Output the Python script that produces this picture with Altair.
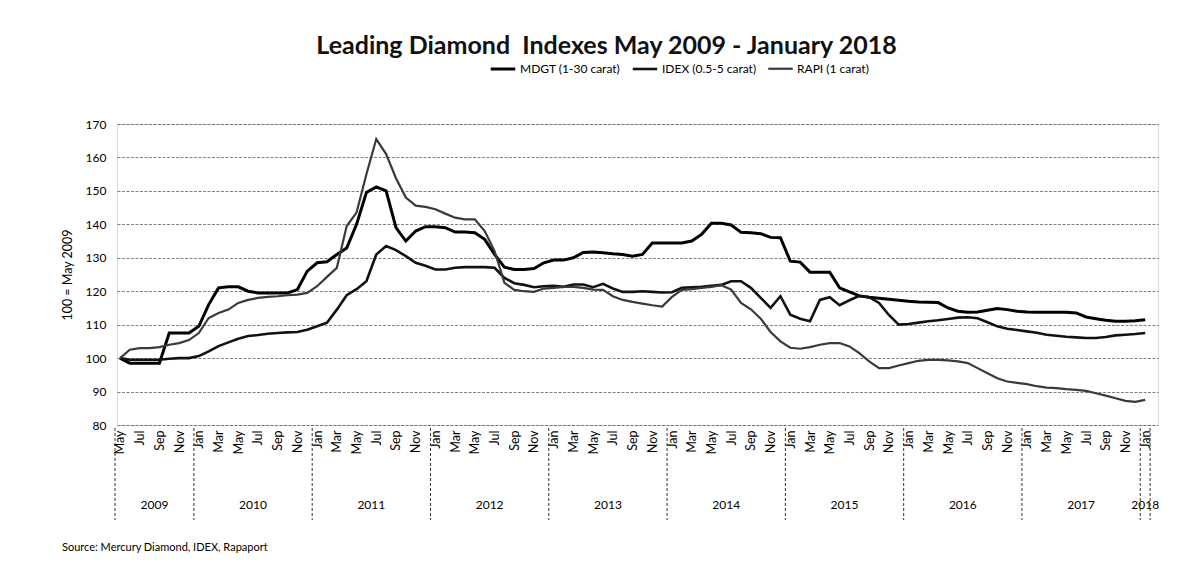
import altair as alt
import pandas as pd

# ---------------- data (monthly, May 2009 .. Jan 2018) ----------------
series_names = ["MDGT (1-30 carat)", "IDEX (0.5-5 carat)", "RAPI (1 carat)"]

mdgt = [100, 98.5, 98.5, 98.5, 98.5, 107.5, 107.5, 107.5, 109.5, 116,
        121, 121.3, 121.3, 120, 119.5, 119.5, 119.5, 119.5, 120.5, 126,
        128.5, 128.8, 131, 132.9, 140, 149.5, 151.2, 150, 139, 135,
        138, 139.3, 139.3, 139, 137.7, 137.7, 137.5, 135.5, 131, 127.2,
        126.5, 126.5, 126.8, 128.5, 129.3, 129.3, 130, 131.6, 131.7, 131.5,
        131.2, 131, 130.5, 131, 134.4, 134.4, 134.4, 134.4, 135, 137,
        140.3, 140.3, 139.8, 137.6, 137.5, 137.2, 136.1, 136, 129, 128.7,
        125.7, 125.7, 125.7, 121, 119.8, 118.6, 118.2, 117.9, 117.6, 117.3,
        117, 116.8, 116.7, 116.6, 115, 114, 113.7, 113.8, 114.3, 114.8,
        114.5, 114, 113.8, 113.7, 113.7, 113.7, 113.7, 113.5, 112.3, 111.8,
        111.3, 111, 111, 111.2, 111.5]

idex = [100, 99.5, 99.5, 99.5, 99.5, 99.8, 100, 100, 100.6, 102,
        103.6, 104.7, 105.8, 106.6, 106.9, 107.3, 107.5, 107.7, 107.8, 108.5,
        109.5, 110.6, 114.5, 118.8, 120.6, 123, 131, 133.5, 132.3, 130.5,
        128.5, 127.6, 126.5, 126.5, 127, 127.2, 127.2, 127.2, 127, 124,
        122.4, 121.9, 121.2, 121.5, 121.6, 121.3, 122, 122, 121.2, 122.2,
        120.8, 119.8, 119.8, 120, 119.8, 119.6, 119.7, 121, 121.2, 121.3,
        121.6, 121.9, 123, 123, 121, 118, 115, 118.5, 113, 111.8,
        111, 117.4, 118.2, 115.8, 117.3, 118.6, 118.2, 116.5, 112.9, 110,
        110.2, 110.6, 111, 111.3, 111.7, 112.1, 112.2, 111.9, 110.7, 109.5,
        108.8, 108.4, 108, 107.6, 107, 106.7, 106.4, 106.2, 106, 106,
        106.3, 106.8, 107, 107.2, 107.5]

rapi = [100, 102.5, 103, 103, 103.3, 104, 104.5, 105.4, 107.5, 112,
        113.5, 114.5, 116.5, 117.4, 118, 118.3, 118.5, 118.8, 119, 119.5,
        121.5, 124.3, 127, 139.5, 143.5, 155, 165.5, 161, 153.8, 148,
        145.6, 145.2, 144.5, 143.2, 142, 141.5, 141.5, 138, 132, 122.5,
        120.4, 120, 119.8, 120.8, 121, 121.3, 121.3, 121, 120.5, 120.4,
        118.5, 117.4, 116.8, 116.3, 115.8, 115.4, 118.3, 120.4, 120.6, 121,
        121.3, 121.8, 120.5, 116.5, 114.6, 111.8, 107.8, 105, 103.1, 102.8,
        103.3, 104, 104.5, 104.5, 103.5, 101.5, 99, 97, 97, 97.8,
        98.5, 99.2, 99.5, 99.5, 99.3, 99, 98.5, 97, 95.5, 94,
        93, 92.6, 92.2, 91.6, 91.2, 91, 90.7, 90.5, 90.2, 89.5,
        88.8, 88, 87.2, 86.9, 87.5]

month_tick_labels = ["May", "Jul", "Sep", "Nov", "Jan", "Mar"]
years = ["2009", "2010", "2011", "2012", "2013", "2014", "2015", "2016", "2017", "2018"]
year_centers = [3.5, 13.5, 25.5, 37.5, 49.5, 61.5, 73.5, 85.5, 97.5, 104]
year_dividers = [-0.5, 7.5, 19.5, 31.5, 43.5, 55.5, 67.5, 79.5, 91.5, 103.5, 104.5]

title_text = "Leading Diamond\u00a0 Indexes May 2009 - January 2018"
source_text = "Source: Mercury Diamond, IDEX, Rapaport"
y_title = "100 = May 2009"

# ---------------- build tables ----------------
rows = []
for name, vals in zip(series_names, [mdgt, idex, rapi]):
    for i, v in enumerate(vals):
        rows.append({"m": i, "series": name, "value": v})
df = pd.DataFrame(rows)
years_df = pd.DataFrame({"m": year_centers, "year": years})
div_df = pd.DataFrame({"m": year_dividers})
src_df = pd.DataFrame({"t": [source_text]})

FONT = "Lato"
W, H = 1041, 301

xscale = alt.Scale(domain=[-0.3, 105.3], nice=False, zero=False)
label_arr = "[" + ",".join("'%s'" % s for s in month_tick_labels) + "]"
x_axis = alt.Axis(values=list(range(0, 105, 2)),
                  labelExpr=label_arr + "[(datum.value/2)%6]",
                  labelAngle=270, labelFontSize=12.5, labelFont=FONT,
                  labelColor="#000", labelPadding=5, ticks=False,
                  domain=False, grid=False, labelOverlap=False, labelFlush=False,
                  labelSeparation=0, labelBound=False)


def xe():
    return alt.X("m:Q", scale=xscale, title=None, axis=x_axis)


legend = alt.Legend(title=None, orient="none", direction="horizontal",
                    legendX=372, legendY=-69, symbolType="stroke",
                    symbolSize=600, labelFontSize=12, labelFont=FONT,
                    labelColor="#000", columnPadding=6, labelOffset=3)

lines = alt.Chart(df).mark_line().encode(
    x=xe(),
    y=alt.Y("value:Q", scale=alt.Scale(domain=[80, 170], nice=False, zero=False),
            title=y_title,
            axis=alt.Axis(values=list(range(80, 171, 10)), ticks=False, tickSize=0,
                          domain=False, labelFontSize=12, labelFont=FONT,
                          labelColor="#000", labelPadding=11,
                          titleFont=FONT, titleFontSize=12.5, titleFontWeight="normal",
                          titleColor="#000", titlePadding=11,
                          gridColor="#444", gridWidth=0.8, gridDash=[3, 1.5],
                          gridOpacity=0.85)),
    color=alt.Color("series:N", sort=series_names,
                    scale=alt.Scale(domain=series_names, range=["#000000", "#111111", "#3a3a3a"]),
                    legend=legend),
    strokeWidth=alt.StrokeWidth("series:N", sort=series_names,
                                scale=alt.Scale(domain=series_names, range=[3, 2.2, 1.4]),
                                legend=legend),
    detail="series:N",
)

dividers = alt.Chart(div_df).mark_rule(color="#333", strokeWidth=1, strokeDash=[3, 2]).encode(
    x=xe(),
    y=alt.value(304), y2=alt.value(396),
)

year_text = alt.Chart(years_df).mark_text(font=FONT, fontSize=12, color="#000").encode(
    x=xe(),
    y=alt.value(381),
    text="year:N",
)

source = alt.Chart(src_df).mark_text(font=FONT, fontSize=11, color="#000", align="left").encode(
    x=alt.value(-55), y=alt.value(424), text="t:N",
)

chart = alt.layer(lines, dividers, year_text, source).properties(
    width=W, height=H,
    title=alt.TitleParams(title_text, font=FONT, fontSize=25, fontWeight="bold",
                          color="#111", anchor="middle", dx=-31, offset=-4),
    autosize=alt.AutoSizeParams(type="none"),
    padding={"left": 109, "top": 116, "right": 9, "bottom": 130},
).configure_view(stroke=None).configure(background="white")

chart.save("out.html", embed_options={"renderer": "svg", "actions": False})
